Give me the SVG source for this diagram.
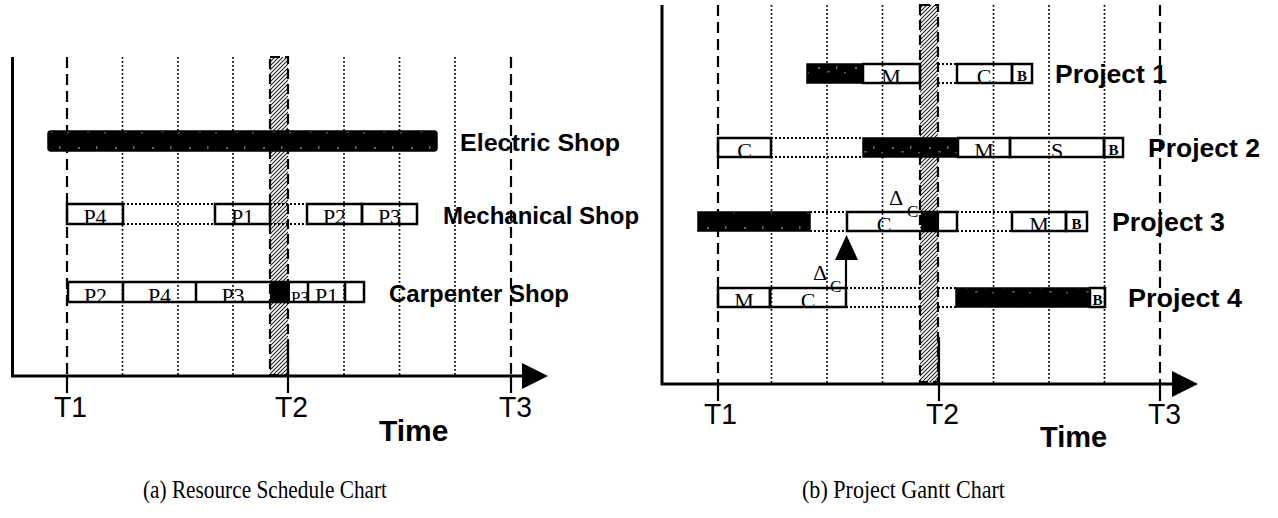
<svg xmlns="http://www.w3.org/2000/svg" width="1278" height="518" viewBox="0 0 1278 518">
<defs>
<pattern id="hatch" patternUnits="userSpaceOnUse" width="4" height="4">
<rect width="4" height="4" fill="#fff"/>
<path d="M0,4 L4,0 M-1,1 L1,-1 M3,5 L5,3" stroke="#222" stroke-width="1.1"/>
</pattern>
<pattern id="noise" patternUnits="userSpaceOnUse" width="37" height="20">
<rect width="37" height="20" fill="#000"/>
<rect x="4" y="7" width="2" height="2" fill="#666"/>
<rect x="13" y="11" width="3" height="1.5" fill="#555"/>
<rect x="22" y="6" width="1.5" height="3" fill="#666"/>
<rect x="30" y="12" width="2" height="1.5" fill="#555"/>
</pattern>
</defs>
<style>
.grid{stroke:#000;stroke-width:1.7;stroke-dasharray:1.7 2.3;fill:none}
.tline{stroke:#000;stroke-width:2.2;stroke-dasharray:11 6;fill:none}
.tick{stroke:#000;stroke-width:2.2;fill:none}
.axis{stroke:#000;stroke-width:3;fill:none}
.band{fill:url(#hatch);stroke:#000;stroke-width:2.2;stroke-dasharray:10 5}
.box{fill:none;stroke:#000;stroke-width:2.5}
.blk{fill:url(#noise);stroke:#000;stroke-width:1.5}
.solid{fill:#000}
.conn{stroke:#000;stroke-width:2;stroke-dasharray:2 2;fill:none}
.lbl{font-family:"Liberation Sans",Arial,sans-serif;font-weight:bold;font-size:24px;fill:#000}
.plbl{font-family:"Liberation Sans",Arial,sans-serif;font-weight:bold;font-size:26px;fill:#000}
.tl{font-family:"Liberation Sans",Arial,sans-serif;font-size:30px;fill:#000}
.time{font-family:"Liberation Sans",Arial,sans-serif;font-weight:bold;font-size:30px;fill:#000}
.in{font-family:"Liberation Serif","Times New Roman",serif;font-size:22px;text-anchor:middle;fill:#000}
.bb{font-family:"Liberation Serif","Times New Roman",serif;font-weight:bold;font-size:15px;text-anchor:middle;fill:#000}
.dl{font-family:"Liberation Serif","Times New Roman",serif;fill:#000}
.cap{font-family:"Liberation Serif","Times New Roman",serif;font-size:25px;fill:#000}
</style>
<rect width="1278" height="518" fill="#fff"/>

<!-- ===== Chart (a) ===== -->
<g id="a-grid">
<path class="grid" d="M122.5,57V376 M178,57V376 M233,57V376 M344,57V376 M399.5,57V376 M455,57V376"/>
<path class="tline" d="M67,57V376 M511,57V376"/>
<rect class="band" x="270" y="57" width="18" height="318"/>
<path class="tick" d="M67,376V393 M288,341V393 M511,376V393"/>
</g>
<g id="a-axes">
<path class="axis" d="M12.5,57V376H526"/>
<polygon points="522,363 548,376 522,389" fill="#000"/>
<text class="tl" x="54" y="417" textLength="33" lengthAdjust="spacingAndGlyphs">T1</text>
<text class="tl" x="275" y="417" textLength="33" lengthAdjust="spacingAndGlyphs">T2</text>
<text class="tl" x="499" y="417" textLength="33" lengthAdjust="spacingAndGlyphs">T3</text>
<text class="time" x="379" y="441">Time</text>
</g>

<g id="a-connectors">
<path class="conn" d="M123,204H215 M123,224H215 M270,204H307 M270,224H307"/>
</g>

<g id="electric-shop">
<rect class="blk" x="48" y="131" width="389" height="20" rx="3"/>
<text class="lbl" x="460" y="151" textLength="160" lengthAdjust="spacingAndGlyphs">Electric Shop</text>
</g>

<g id="mechanical-shop">
<text class="in" x="95" y="224">P4</text>
<text class="in" x="242.5" y="224">P1</text>
<text class="in" x="334.5" y="224">P2</text>
<text class="in" x="389.5" y="224">P3</text>
<rect class="box" x="67" y="204" width="56" height="20"/>
<rect class="box" x="215" y="204" width="55" height="20"/>
<rect class="box" x="307" y="204" width="55" height="20"/>
<rect class="box" x="362" y="204" width="55" height="20"/>
<text class="lbl" x="443" y="224">Mechanical Shop</text>
</g>

<g id="carpenter-shop">
<text class="in" x="95.5" y="303">P2</text>
<text class="in" x="159.5" y="303">P4</text>
<text class="in" x="233" y="303">P3</text>
<text class="in" x="300" y="303" style="font-size:17px">P3</text>
<text class="in" x="326.5" y="303">P1</text>
<rect class="box" x="68" y="282" width="296" height="20"/>
<path class="box" d="M123,282V302 M196,282V302 M308,282V302 M345,282V302"/>
<rect class="solid" x="270" y="281" width="20" height="22"/>
<text class="lbl" x="389" y="302">Carpenter Shop</text>
</g>

<!-- ===== Chart (b) ===== -->
<g id="b-grid">
<path class="grid" d="M771.5,5V384 M827,5V384 M882.5,5V384 M993.5,5V384 M1049,5V384 M1104.5,5V384"/>
<path class="tline" d="M718,5V384 M1160,5V384"/>
<rect class="band" x="920" y="5" width="18" height="377"/>
<path class="tick" d="M718,384V401 M939,337V401 M1160,384V401"/>
</g>
<g id="b-axes">
<path class="axis" d="M662,5V384H1176"/>
<polygon points="1172,371 1198,384 1172,397" fill="#000"/>
<text class="tl" x="704" y="424" textLength="33" lengthAdjust="spacingAndGlyphs">T1</text>
<text class="tl" x="926" y="424" textLength="33" lengthAdjust="spacingAndGlyphs">T2</text>
<text class="tl" x="1148" y="424" textLength="33" lengthAdjust="spacingAndGlyphs">T3</text>
<text class="time" x="1040" y="447" style="font-size:29px">Time</text>
</g>

<g id="b-connectors">
<path class="conn" d="M938,64H957 M938,83H957 M771,138H863 M771,157H863 M810,212H847 M810,231H847 M957,212H1012 M957,231H1012 M846,288H920 M846,307H920 M938,288H956 M938,307H956"/>
<path d="M846,288V259" stroke="#000" stroke-width="2.2"/>
<polygon points="835,260 858,260 846.5,235" fill="#000"/>
<text class="dl" x="889" y="205" style="font-size:22px">Δ</text>
<text class="dl" x="907" y="217" style="font-size:17px">C</text>
<text class="dl" x="813" y="280" style="font-size:22px">Δ</text>
<text class="dl" x="830" y="292" style="font-size:17px">C</text>
</g>

<g id="project-1">
<rect class="blk" x="807" y="64" width="56" height="19"/>
<text class="in" x="891" y="84">M</text>
<text class="in" x="984" y="84">C</text>
<text class="bb" x="1022" y="81">B</text>
<rect class="box" x="863" y="64" width="57" height="19"/>
<rect class="box" x="957" y="64" width="55" height="19"/>
<rect class="box" x="1012" y="64" width="20" height="19"/>
<text class="plbl" x="1055" y="83" textLength="112" lengthAdjust="spacingAndGlyphs">Project 1</text>
</g>

<g id="project-2">
<text class="in" x="744.5" y="158">C</text>
<text class="in" x="984" y="158">M</text>
<text class="in" x="1057" y="158">S</text>
<text class="bb" x="1113.5" y="155">B</text>
<rect class="box" x="718" y="138" width="53" height="19"/>
<rect class="blk" x="863" y="138" width="95" height="19"/>
<rect class="box" x="958" y="138" width="52" height="19"/>
<rect class="box" x="1010" y="138" width="94" height="19"/>
<rect class="box" x="1104" y="138" width="19" height="19"/>
<text class="plbl" x="1148" y="157" textLength="112" lengthAdjust="spacingAndGlyphs">Project 2</text>
</g>

<g id="project-3">
<rect class="blk" x="698" y="212" width="112" height="19"/>
<text class="in" x="884" y="232">C</text>
<text class="in" x="1039" y="232">M</text>
<text class="bb" x="1076.5" y="229">B</text>
<rect class="box" x="847" y="212" width="110" height="19"/>
<rect class="solid" x="921" y="212" width="18" height="19"/>
<rect class="box" x="1012" y="212" width="54" height="19"/>
<rect class="box" x="1066" y="212" width="21" height="19"/>
<text class="plbl" x="1112" y="231" textLength="113" lengthAdjust="spacingAndGlyphs">Project 3</text>
</g>

<g id="project-4">
<text class="in" x="744" y="308">M</text>
<text class="in" x="808" y="308">C</text>
<text class="bb" x="1097.5" y="305">B</text>
<rect class="box" x="718" y="288" width="52" height="19"/>
<rect class="box" x="770" y="288" width="76" height="19"/>
<rect class="blk" x="956" y="288" width="134" height="19"/>
<rect class="box" x="1090" y="288" width="15" height="19"/>
<text class="plbl" x="1128" y="307" textLength="114" lengthAdjust="spacingAndGlyphs">Project 4</text>
</g>

<g id="captions">
<text class="cap" x="143" y="498" textLength="244" lengthAdjust="spacingAndGlyphs">(a) Resource Schedule Chart</text>
<text class="cap" x="802" y="498" textLength="203" lengthAdjust="spacingAndGlyphs">(b) Project Gantt Chart</text>
</g>
</svg>
